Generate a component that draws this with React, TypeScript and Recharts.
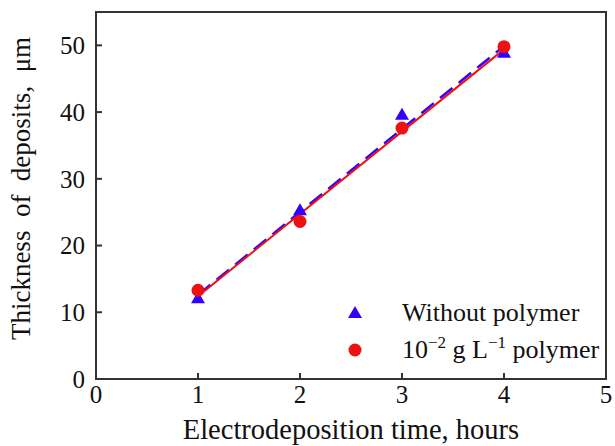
import React from "react";
import { ComposedChart, Scatter, Line, XAxis, YAxis, Label, ReferenceArea } from "recharts";

// measured points
const hours = [1, 2, 3, 4];
const withoutPolymer = [12.1, 25.3, 39.6, 48.9];
const withPolymer = [13.3, 23.6, 37.6, 49.8];

// straight fit lines (end points)
const fitHours = [1, 4];
const fitWithout = [12.6, 49.9];
const fitWith = [12.4, 49.4];

const xTicks = [0, 1, 2, 3, 4, 5];
const yTicks = [0, 10, 20, 30, 40, 50];

const BLUE = "#3300ff";
const RED = "#ee1111";
const AXIS = "#333333";
const INK = "#111111";
const FONT = "'Liberation Serif', 'Times New Roman', serif";

const toPoints = (xs: number[], ys: number[]) => xs.map((x, i) => ({ x, y: ys[i] }));

const triangleData = toPoints(hours, withoutPolymer);
const circleData = toPoints(hours, withPolymer);
const blueFit = toPoints(fitHours, fitWithout);
const redFit = toPoints(fitHours, fitWith);

const Triangle = (props: any) => {
  const { cx, cy } = props;
  return <polygon points={`${cx},${cy - 7} ${cx - 7},${cy + 5} ${cx + 7},${cy + 5}`} fill={BLUE} />;
};

const Dot = (props: any) => {
  const { cx, cy } = props;
  return <circle cx={cx} cy={cy} r={6.5} fill={RED} />;
};

const supStyle: React.CSSProperties = { fontSize: 17, position: "relative", top: -10, lineHeight: 0 };

const LegendBox = () => (
  <div
    style={{
      position: "absolute",
      left: 340,
      top: 294,
      fontFamily: FONT,
      fontSize: 26,
      color: INK,
      lineHeight: "37px",
      whiteSpace: "nowrap",
    }}
  >
    <div style={{ display: "flex", alignItems: "center", height: 37 }}>
      <svg width={62} height={20} style={{ flex: "none" }}>
        <polygon points="15,3 8,15 22,15" fill={BLUE} />
      </svg>
      <span>Without polymer</span>
    </div>
    <div style={{ display: "flex", alignItems: "center", height: 37 }}>
      <svg width={62} height={20} style={{ flex: "none" }}>
        <circle cx={15} cy={10} r={6.5} fill={RED} />
      </svg>
      <span>
        10<span style={supStyle}>−2</span> g L<span style={supStyle}>−1</span> polymer
      </span>
    </div>
  </div>
);

export default function App() {
  return (
    <div style={{ position: "absolute", left: 0, top: 0, width: 615, height: 446, background: "#fff" }}>
      <ComposedChart width={615} height={446} margin={{ top: 12, right: 9, bottom: 27, left: 46 }}>
        <XAxis
          type="number"
          dataKey="x"
          domain={[0, 5]}
          ticks={xTicks}
          interval={0}
          height={40}
          stroke={AXIS}
          strokeWidth={2}
          tickSize={-6}
          tickMargin={12}
          tick={{ fill: INK, fontSize: 25, fontFamily: FONT }}
          allowDataOverflow
        >
          <Label
            value="Electrodeposition time, hours"
            position="insideBottom"
            offset={-20}
            style={{ fill: INK, fontSize: 28.5, fontFamily: FONT }}
          />
        </XAxis>
        <YAxis
          type="number"
          dataKey="y"
          domain={[0, 55]}
          ticks={yTicks}
          interval={0}
          width={50}
          stroke={AXIS}
          strokeWidth={2}
          tickSize={-6}
          tickMargin={17}
          tick={{ fill: INK, fontSize: 25, fontFamily: FONT }}
          allowDataOverflow
        >
          <Label
            value={"Thickness\u00a0\u00a0of\u00a0\u00a0deposits,\u00a0\u00a0μm"}
            angle={-90}
            position="center"
            dx={-51}
            dy={-7}
            style={{ fill: INK, fontSize: 27, fontFamily: FONT }}
          />
        </YAxis>
        <ReferenceArea x1={0} x2={5} y1={0} y2={55} fill="none" stroke={AXIS} strokeWidth={2} ifOverflow="visible" />
        <Scatter data={triangleData} shape={<Triangle />} isAnimationActive={false} />
        <Scatter data={circleData} shape={<Dot />} isAnimationActive={false} />
        <Line data={blueFit} dataKey="y" stroke={BLUE} strokeWidth={2.5} strokeDasharray="16 8" dot={false} isAnimationActive={false} />
        <Line data={redFit} dataKey="y" stroke={RED} strokeWidth={2} dot={false} isAnimationActive={false} />
      </ComposedChart>
      <LegendBox />
    </div>
  );
}
